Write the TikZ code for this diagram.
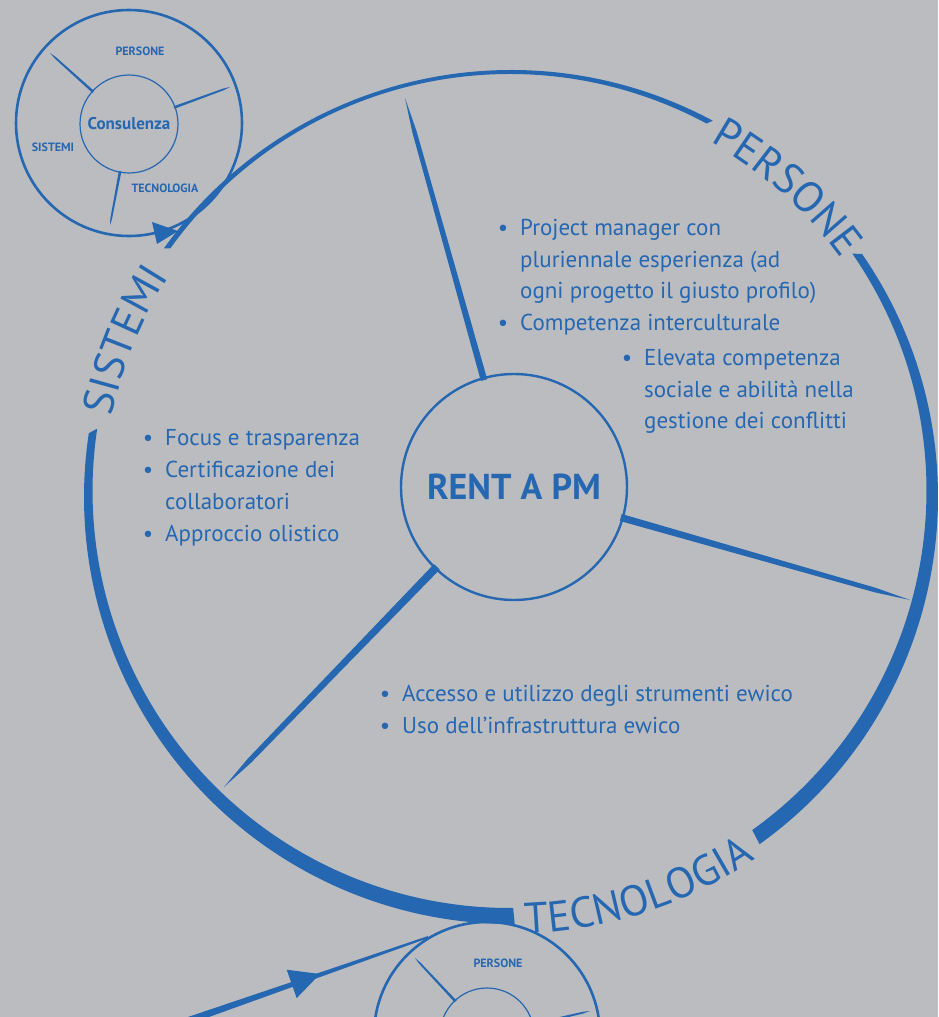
\documentclass[tikz,border=0pt]{standalone}
\usepackage{fontspec}
\setmainfont{PT Sans}
\usetikzlibrary{calc,decorations.text}
\definecolor{pmblue}{HTML}{2667B1}
\definecolor{pmbg}{HTML}{BBBCC0}
\newcommand\arcfont{\fontsize{43}{43}\selectfont}
\newcommand\bul{\llap{\textbullet\hspace{12pt}}}
% tapered connector: base, tip, half width at base, half width near tip
\newcommand\taper[4]{%
  \coordinate (tmpm) at ($(#1)!0.88!(#2)$);
  \fill[pmblue] ($(#1)!#3!90:(#2)$) -- ($(tmpm)!#4!90:(#2)$) -- (#2) --
    ($(tmpm)!#4!-90:(#2)$) -- ($(#1)!#3!-90:(#2)$) -- cycle;}
\tikzset{
  listline/.style={anchor=base west, inner sep=0pt, text=pmblue,
    font=\fontsize{23}{27}\selectfont},
  smalllabel/.style={text=pmblue, inner sep=0pt,
    font=\bfseries\fontsize{12}{12}\selectfont},
  ringnode/.style={circle, draw=pmblue, inner sep=0pt, line width=2.6pt},
  hubnode/.style={circle, draw=pmblue, inner sep=0pt, text=pmblue},
  arclabel/.style={decorate, decoration={text along path, text align=center,
    text={|\arcfont\color{pmblue}|#1}}}
}
\begin{document}
\begin{tikzpicture}[x=1pt,y=-1pt]
\fill[pmbg] (0,0) rectangle (938,1017);
\useasboundingbox (0,0) rectangle (938,1017);
\clip (0,0) rectangle (938,1017);

% ---- big ring (three segments, gaps for labels)
\fill[pmblue] ([shift={(-305.6:427)}]511,497) arc[start angle=-305.6, end angle=-394.7, radius=427]
  -- ([shift={(-394.7:417)}]509.5,491) arc[start angle=-394.7, end angle=-305.6, radius=417] -- cycle;
\fill[pmblue] ([shift={(-61.8:427)}]511,497) arc[start angle=-61.8, end angle=-144.4, radius=427]
  -- ([shift={(-144.4:417)}]509.5,491) arc[start angle=-144.4, end angle=-61.8, radius=417] -- cycle;
\fill[pmblue] ([shift={(-171.4:427)}]511,497) arc[start angle=-171.4, end angle=-270.5, radius=427]
  -- ([shift={(-270.5:417)}]509.5,491) arc[start angle=-270.5, end angle=-171.4, radius=417] -- cycle;

% ---- ring labels
\path[arclabel={PERSONE}] ([shift={(-78.25:407)}]511,497) arc[start angle=-78.25, end angle=-18.25, radius=407];
\path[arclabel={SISTEMI}] ([shift={(-187.9:407)}]511,497) arc[start angle=-187.9, end angle=-127.9, radius=407];
\path[arclabel={TECNOLOGIA}] ([shift={(102:437)}]511,497) arc[start angle=102, end angle=42, radius=437];

% ---- hub
\node[hubnode, minimum size=226pt, line width=2.4pt, font=\bfseries\fontsize{36}{36}\selectfont] (rpm) at (514,487) {RENT A PM};
\coordinate (t1) at (405,98);
\coordinate (t2) at (910,600);
\coordinate (t3) at (224,787);
\coordinate (b1) at ($(rpm)!111pt!(t1)$);
\coordinate (b2) at ($(rpm)!111pt!(t2)$);
\coordinate (b3) at ($(rpm)!111pt!(t3)$);
\taper{b1}{t1}{3.3pt}{2.2pt}
\taper{b2}{t2}{3.6pt}{2.3pt}
\taper{b3}{t3}{4pt}{2.6pt}

% ---- lists
\node[listline] (p1) at (520,235) {\bul Project manager con};
\node[listline] (p2) at (520,267) {pluriennale esperienza (ad};
\node[listline] (p3) at (520,298) {ogni progetto il giusto profilo)};
\node[listline] (p4) at (520,330) {\bul Competenza interculturale};
\node[listline] (p5) at (644,365) {\bul Elevata competenza};
\node[listline] (p6) at (644,397) {sociale e abilità nella};
\node[listline] (p7) at (644,428) {gestione dei conflitti};

\node[listline] (s1) at (165,445) {\bul Focus e trasparenza};
\node[listline] (s2) at (165,477) {\bul Certificazione dei};
\node[listline] (s3) at (165,509) {collaboratori};
\node[listline] (s4) at (165,541) {\bul Approccio olistico};

\node[listline] (k1) at (402,701) {\bul Accesso e utilizzo degli strumenti ewico};
\node[listline] (k2) at (402,733) {\bul Uso dell’infrastruttura ewico};

% ---- small circle top-left
\node[ringnode, minimum size=226pt] (cs) at (129,123) {};
\node[hubnode, minimum size=98pt, line width=1.2pt, font=\bfseries\fontsize{17}{17}\selectfont] (cc) at (129,124) {Consulenza};
\fill[pmblue] (152,222) -- (178,231) -- (157,244) -- cycle;
\coordinate (u1) at (50,53);
\coordinate (u2) at (230,87);
\coordinate (u3) at (110,225);
\coordinate (ub1) at ($(cc)!48pt!(u1)$);
\coordinate (ub2) at ($(cc)!48pt!(u2)$);
\coordinate (ub3) at ($(cc)!48pt!(u3)$);
\taper{ub1}{u1}{1.3pt}{0.9pt}
\taper{ub2}{u2}{1.3pt}{0.9pt}
\taper{ub3}{u3}{1.3pt}{0.9pt}
\node[smalllabel] (csp) at (140,51) {PERSONE};
\node[smalllabel] (css) at (53,147) {SISTEMI};
\node[smalllabel] (cst) at (165,188) {TECNOLOGIA};

% ---- small circle bottom
\node[ringnode, minimum size=226pt] (cb) at (487,1035) {};
\node[hubnode, minimum size=94pt, line width=1.2pt] (cbi) at (487,1035) {};
\coordinate (v1) at (415,958);
\coordinate (v2) at (590,1011);
\coordinate (vb1) at ($(cbi)!46pt!(v1)$);
\coordinate (vb2) at ($(cbi)!46pt!(v2)$);
\taper{vb1}{v1}{1.3pt}{0.9pt}
\taper{vb2}{v2}{1.3pt}{0.9pt}
\node[smalllabel] (cbp) at (498,963) {PERSONE};

% ---- incoming arrow bottom-left
\coordinate (as) at (150,1034);
\coordinate (ae) at (cb.121);
\fill[pmblue] ($(as)!4pt!90:(ae)$) -- ($(ae)!1pt!-90:(as)$) -- ($(ae)!1pt!90:(as)$) -- ($(as)!4pt!-90:(ae)$) -- cycle;
\fill[pmblue] (320,974) -- (286.7,969.7) -- (296.7,998.1) -- cycle;
\end{tikzpicture}
\end{document}
